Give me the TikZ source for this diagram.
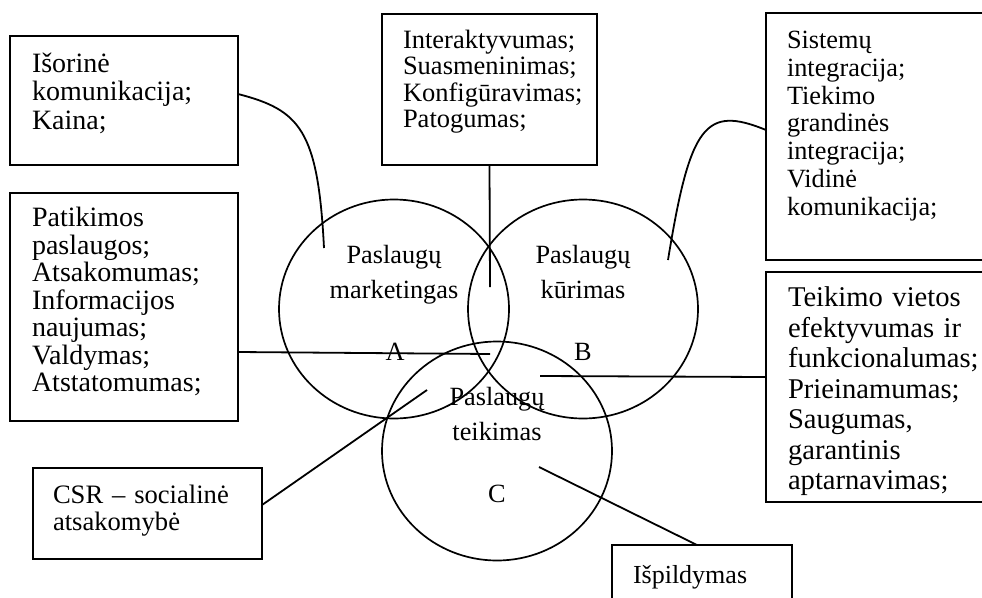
\documentclass[tikz,border=0pt]{standalone}
\usepackage{fontspec}
\setmainfont{Liberation Serif}
\usetikzlibrary{shapes.geometric}
\begin{document}
\begin{tikzpicture}[x=1pt,y=-1pt,line width=1.8pt,
  box/.style={draw,rectangle,anchor=north west,inner sep=0pt,outer sep=0pt},
  txt/.style={anchor=base west,inner sep=0pt,outer sep=0pt,text width=215pt,align=left},
  circ/.style={draw,ellipse,inner sep=0pt,outer sep=0pt,minimum width=230pt,minimum height=219pt,line width=1.7pt},
  ctxt/.style={anchor=base,inner sep=0pt,text width=160pt,align=center,font=\fontsize{26.3}{35}\selectfont},
  letter/.style={anchor=base,inner sep=0pt,font=\fontsize{26.3}{30}\selectfont},
  conn/.style={draw,line width=1.8pt}]
\useasboundingbox (0,0) rectangle (982,597);
\clip (0,0) rectangle (982,597);
\fill[white] (0,0) rectangle (982,597);

% circles
\node[circ] (cA) at (394,309) {};
\node[circ] (cB) at (583,309) {};
\node[circ] (cC) at (497,451) {};

\node[ctxt] (lA) at (394,263) {Paslaugų\\marketingas};
\node[ctxt] (lB) at (583,263) {Paslaugų\\kūrimas};
\node[ctxt] (lC) at (497,405) {Paslaugų\\teikimas};
\node[letter] (tA) at (395,360) {A};
\node[letter] (tB) at (583,360) {B};
\node[letter] (tC) at (497,502) {C};

% boxes
\node[box,minimum width=228pt,minimum height=129pt] (b1) at (10,36) {};
\node[box,minimum width=215pt,minimum height=151pt] (b2) at (382,14) {};
\node[box,minimum width=230pt,minimum height=247pt] (b3) at (766,13) {};
\node[box,minimum width=228pt,minimum height=228pt] (b4) at (10,193) {};
\node[box,minimum width=230pt,minimum height=230pt] (b5) at (766,272) {};
\node[box,minimum width=229pt,minimum height=91pt] (b6) at (33,468) {};
\node[box,minimum width=180pt,minimum height=70pt] (b7) at (612,545) {};

\node[txt,font=\fontsize{28}{28.4}\selectfont] (x1) at (32,72.5) {Išorinė\\komunikacija;\\Kaina;};
\node[txt,font=\fontsize{26.5}{26.6}\selectfont] (x2) at (403,48) {Interaktyvumas;\\Suasmeninimas;\\Konfigūravimas;\\Patogumas;};
\node[txt,font=\fontsize{26.3}{27.8}\selectfont] (x3) at (787,48.5) {Sistemų\\integracija;\\Tiekimo\\grandinės\\integracija;\\Vidinė\\komunikacija;};
\node[txt,font=\fontsize{28}{27.5}\selectfont] (x4) at (32,226.7) {Patikimos\\paslaugos;\\Atsakomumas;\\Informacijos\\naujumas;\\Valdymas;\\Atstatomumas;};
\node[txt,font=\fontsize{28.6}{30.5}\selectfont] (x5) at (788,306.7) {Teikimo vietos\\efektyvumas ir\\funkcionalumas;\\Prieinamumas;\\Saugumas,\\garantinis\\aptarnavimas;};
\node[txt,font=\fontsize{26.6}{27}\selectfont] (x6) at (53,503) {CSR – socialinė\\atsakomybė};
\node[txt,font=\fontsize{26}{28}\selectfont] (x7) at (633,583) {Išpildymas};

% connector free ends
\coordinate (pA) at (324,248);
\coordinate (pB) at (668,260);
\coordinate (pM) at (490,287);
\coordinate (pL) at (490,354);
\coordinate (pR) at (540,376);
\coordinate (pS) at (427,390);
\coordinate (pI) at (539,467);

% connectors
\draw[conn] ([yshift=6.5pt]b1.east) .. controls (300,110) and (318,130) .. (pA);
\draw[conn] ([yshift=6.5pt]b3.west) .. controls (705,105) and (690,125) .. (pB);
\draw[conn] (b2.south) -- (pM);
\draw[conn] ([yshift=-45pt]b4.east) -- (pL);
\draw[conn] ([yshift=10pt]b5.west) -- (pR);
\draw[conn] ([yshift=8.5pt]b6.east) -- (pS);
\draw[conn] ([xshift=-5pt]b7.north) -- (pI);
\end{tikzpicture}
\end{document}
